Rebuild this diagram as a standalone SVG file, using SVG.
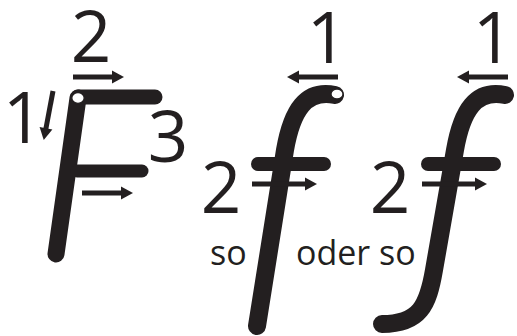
<svg xmlns="http://www.w3.org/2000/svg" width="517" height="336" viewBox="0 0 517 336">
<defs>
<style>
.num{font-family:"Open Sans","Liberation Sans",sans-serif;font-size:71px;fill:#231f20;text-anchor:middle}
.lbl{font-family:"Open Sans","Liberation Sans",sans-serif;font-size:34px;fill:#231f20}
.stk{fill:none;stroke:#231f20;stroke-linecap:round;stroke-linejoin:round}
.arr{fill:none;stroke:#231f20;stroke-width:5;marker-end:url(#ah)}
.dot{fill:#fff;stroke:#231f20;stroke-width:1.3}
</style>
<marker id="ah" markerUnits="userSpaceOnUse" markerWidth="14" markerHeight="14" refX="2" refY="6.5" orient="auto" viewBox="0 0 14 13" overflow="visible">
<path d="M0,0 L12,6.5 L0,13 z" fill="#231f20"/>
</marker>
</defs>
<rect width="517" height="336" fill="#fff"/>

<g id="letter-F">
<line class="stk" x1="78" y1="98" x2="56" y2="254" stroke-width="17"/>
<line class="stk" x1="78" y1="97" x2="155" y2="97" stroke-width="15"/>
<line class="stk" x1="77" y1="171" x2="142" y2="171" stroke-width="13"/>
<ellipse class="dot" cx="78" cy="98" rx="6.2" ry="5.3"/>
<text class="num" x="91" y="62">2</text>
<text class="num" x="23" y="143">1</text>
<text class="num" x="168" y="162">3</text>
</g>

<g id="letter-f1">
<path class="stk" d="M335 95 C306 89 292 110 285 150 L257 326" stroke-width="18"/>
<line class="stk" x1="258" y1="164" x2="324" y2="164" stroke-width="14"/>
<ellipse class="dot" cx="337" cy="94" rx="6" ry="5"/>
<text class="num" x="327" y="63">1</text>
<text class="num" x="221" y="213">2</text>
</g>

<g id="letter-f2">
<path class="stk" d="M505 95 C476 89 462 110 455 150 L434 270 C428 305 420 324 382 324" stroke-width="18"/>
<line class="stk" x1="428" y1="164" x2="494" y2="164" stroke-width="14"/>
<text class="num" x="493" y="63">1</text>
<text class="num" x="390" y="213">2</text>
</g>

<g id="labels">
<text class="lbl" x="210" y="265">so</text>
<text class="lbl" x="296" y="265">oder so</text>
</g>

<g id="connectors">
<line class="arr" x1="73" y1="77" x2="114" y2="77"/>
<line class="arr" x1="82" y1="193" x2="123" y2="193"/>
<line class="arr" x1="53" y1="91" x2="45.6" y2="130.2"/>
<line class="arr" x1="338" y1="77" x2="297" y2="77"/>
<line class="arr" x1="252" y1="184" x2="307" y2="184"/>
<line class="arr" x1="508" y1="77" x2="467" y2="77"/>
<line class="arr" x1="422" y1="184" x2="477" y2="184"/>
</g>
</svg>
